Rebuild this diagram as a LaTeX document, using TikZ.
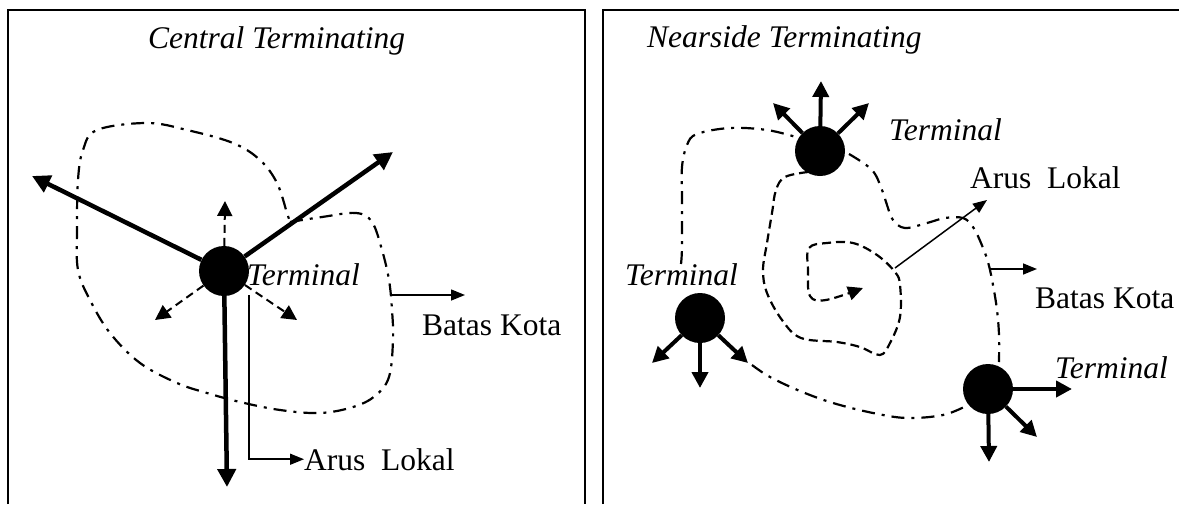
\documentclass[tikz,border=0pt]{standalone}
\usepackage{fontspec}
\setmainfont{Liberation Serif}
\usetikzlibrary{arrows.meta}
\begin{document}
\begin{tikzpicture}[x=1pt,y=-1pt,
  frame/.style={line width=2pt},
  term/.style={circle, fill=black, minimum size=50pt, inner sep=0pt},
  txt/.style={anchor=base west, inner sep=0pt, font=\fontsize{31.5}{36}\selectfont},
  itxt/.style={anchor=base west, inner sep=0pt, font=\fontsize{31.5}{36}\selectfont\itshape},
  bigarrow/.style={line width=4.5pt, -{Triangle[length=18pt,width=18pt]}},
  midarrow/.style={line width=4pt, -{Triangle[length=16pt,width=16pt]}},
  thinarrow/.style={line width=1.5pt, -{Triangle[length=14pt,width=11pt]}},
  dasharrow/.style={line width=2pt, dash pattern=on 8pt off 5pt, -{Triangle[length=15pt,width=15pt]}},
  boundary/.style={line width=2.2pt, dash pattern=on 13pt off 7pt on 3pt off 7pt},
  loopline/.style={line width=2.2pt, dash pattern=on 9pt off 5pt},
]
\useasboundingbox (0,0) rectangle (1179,504);

% ---------------- left panel ----------------
\draw[frame] (8,504) -- (8,10) -- (585,10) -- (585,504);
\node[itxt] (title1) at (148,48) {Central Terminating};

\draw[boundary] plot[smooth, tension=0.6] coordinates {(290,222) (322,217) (356,213) (372,222) (382,250) (389,280) (392,310) (393,340) (389,377) (375,396) (353,407) (320,413) (280,410) (240,402) (207,393) (177,383) (140,363) (110,333) (90,300) (78,270) (77,230) (78,180) (83,150) (97,130) (147,123) (187,130) (233,143) (260,160) (277,183) (287,213) (290,222)};

\node[term] (T1) at (224,271) {};
\coordinate (L1a) at (32,176);
\coordinate (L1b) at (393,152);
\coordinate (L1c) at (227,487);
\draw[bigarrow] (T1) -- (L1a);
\draw[bigarrow] (T1) -- (L1b);
\draw[bigarrow] (T1) -- (L1c);

\coordinate (s1) at (225,201);
\coordinate (s2) at (155,320);
\coordinate (s3) at (297,320);
\draw[dasharrow] (T1) -- (s1);
\draw[dasharrow] (T1) -- (s2);
\draw[dasharrow] (T1) -- (s3);

\node[itxt] (lab1) at (247,285) {Terminal};

\coordinate (al0) at (249,295);
\node[txt] (al1) at (304,470) {Arus\ \ Lokal};
\draw[thinarrow] (al0) |- (al1.west);

\coordinate (bk0) at (392,295);
\coordinate (bk1) at (465,295);
\draw[thinarrow] (bk0) -- (bk1);
\node[txt] (bk) at (422,335) {Batas Kota};

% ---------------- right panel ----------------
\draw[frame] (603,504) -- (603,10) -- (1179,10);
\node[itxt] (title2) at (647,47) {Nearside Terminating};

% city boundary
\draw[boundary] plot[smooth, tension=0.6] coordinates {(681,264) (682,247) (682,200) (682,167) (687,145) (697,134) (730,128) (767,130) (796,137)};
\draw[boundary] plot[smooth, tension=0.6] coordinates {(849,154) (872,170) (882,190) (887,205) (893,220) (905,228) (927,223) (945,218) (963,218) (973,227) (981,243) (988,262) (993,285) (997,310) (999,335) (999,362)};
\draw[boundary] plot[smooth, tension=0.6] coordinates {(752,365) (770,377) (800,391) (833,403) (873,413) (907,418) (943,415) (966,406)};

% local flow spiral
\draw[loopline, -{Triangle[length=15pt,width=14pt]}] plot[smooth, tension=0.6] coordinates {(808,172) (785,177) (776,190) (772,213) (767,243) (763,270) (767,293) (782,320) (801,338) (837,342) (860,347) (880,355) (890,343) (900,317) (900,285) (895,272) (877,255) (853,243) (827,243) (809,248) (808,270) (810,296) (826,300) (863,288)};

\node[term] (T2) at (820,151) {};
\coordinate (t2a) at (821,81);
\coordinate (t2b) at (773,103);
\coordinate (t2c) at (869,103);
\draw[midarrow] (T2) -- (t2a);
\draw[midarrow] (T2) -- (t2b);
\draw[midarrow] (T2) -- (t2c);
\node[itxt] (lab2) at (889,140) {Terminal};

\node[term] (T3) at (700,318) {};
\coordinate (t3a) at (652,363);
\coordinate (t3b) at (700,388);
\coordinate (t3c) at (748,363);
\draw[midarrow] (T3) -- (t3a);
\draw[midarrow] (T3) -- (t3b);
\draw[midarrow] (T3) -- (t3c);
\node[itxt] (lab3) at (625,285) {Terminal};

\node[term] (T4) at (988,389) {};
\coordinate (t4a) at (1072,389);
\coordinate (t4b) at (1037,437);
\coordinate (t4c) at (989,462);
\draw[midarrow] (T4) -- (t4a);
\draw[midarrow] (T4) -- (t4b);
\draw[midarrow] (T4) -- (t4c);
\node[itxt] (lab4) at (1055,378) {Terminal};

\coordinate (al2) at (895,268);
\coordinate (al3) at (987,200);
\draw[thinarrow] (al2) -- (al3);
\node[txt] (al4) at (970,188) {Arus\ \ Lokal};

\coordinate (bk2) at (990,269);
\coordinate (bk3) at (1037,269);
\draw[thinarrow] (bk2) -- (bk3);
\node[txt] (bk4) at (1035,308) {Batas Kota};
\end{tikzpicture}
\end{document}
